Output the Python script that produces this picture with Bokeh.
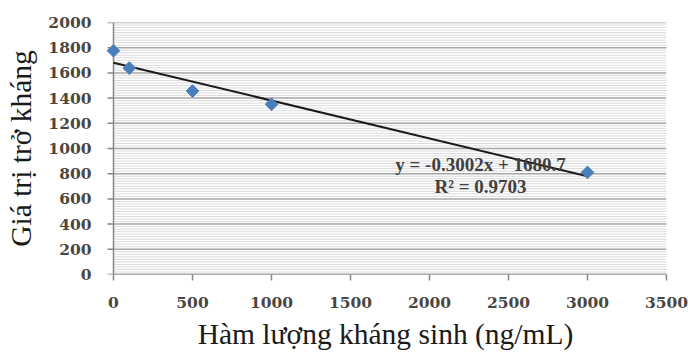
import math
from bokeh.plotting import figure
from bokeh.models import Range1d, SingleIntervalTicker, ColumnDataSource, Label
from bokeh.embed import file_html
from bokeh.resources import INLINE

# Antibiotic concentration (ng/mL) vs impedance
concentration = [0, 100, 500, 1000, 3000]
impedance = [1776, 1638, 1456, 1351, 810]

# Linear fit reported on the chart
slope = -0.3002
intercept = 1680.7
r_squared = 0.9703
fit_x = [0, 3000]
fit_y = [slope * x + intercept for x in fit_x]

x_ticks = [0, 500, 1000, 1500, 2000, 2500, 3000, 3500]
x_max = 3500
y_max = 2000
y_major_step = 200
y_minor_step = 20

AXIS_COLOR = "#868686"

# a small margin left of zero keeps the marker at x=0 whole
x_pad = 57
p = figure(width=688, height=352, output_backend="svg", toolbar_location=None,
           x_range=Range1d(-x_pad, x_max), y_range=Range1d(0, y_max),
           min_border_left=104, min_border_right=22, min_border_top=22,
           min_border_bottom=74)
p.outline_line_color = None
p.background_fill_color = "white"
p.xgrid.grid_line_color = None
p.ygrid.grid_line_color = None

# horizontal grid drawn from the y axis (x=0) to the right edge
minor_levels = [v for v in range(0, y_max + 1, y_minor_step) if v % y_major_step]
major_levels = list(range(0, y_max + 1, y_major_step))
p.multi_line([[0, x_max]] * len(minor_levels), [[v, v] for v in minor_levels],
             line_color="#dadada", line_width=1)
p.multi_line([[0, x_max]] * len(major_levels), [[v, v] for v in major_levels],
             line_color="#a6a6a6", line_width=1.5)

# axis lines sit at x=0 / y=0; y ticks point outward from x=0
tick_len = 6 * (x_max + x_pad) / 562
p.segment(x0=[0, 0], y0=[0, 0], x1=[0, x_max], y1=[y_max, 0],
          line_color=AXIS_COLOR, line_width=1.5)
p.segment(x0=[-tick_len] * len(major_levels), y0=major_levels,
          x1=[0] * len(major_levels), y1=major_levels,
          line_color=AXIS_COLOR, line_width=1.5)

# axes (labels and x ticks)
p.xaxis.ticker = x_ticks
p.yaxis.ticker = SingleIntervalTicker(interval=y_major_step)
for ax in (p.xaxis[0], p.yaxis[0]):
    ax.axis_line_color = None
    ax.major_tick_line_color = AXIS_COLOR
    ax.major_tick_line_width = 1.5
    ax.major_tick_in = 0
    ax.major_tick_out = 6
    ax.minor_tick_line_color = None
    ax.major_label_text_font = "DejaVu Serif"
    ax.major_label_text_font_style = "bold"
    ax.major_label_text_font_size = "15.5px"
    ax.major_label_text_color = "#4a4640"
    ax.axis_label_text_font = "Liberation Serif"
    ax.axis_label_text_font_style = "normal"
    ax.axis_label_text_font_size = "29.5px"
    ax.axis_label_text_color = "#1a1a1a"
p.yaxis.major_tick_line_color = None
p.yaxis.major_tick_out = 0

p.xaxis.axis_label = "Hàm lượng kháng sinh (ng/mL)"
p.yaxis.axis_label = "Giá trị trở kháng"
p.xaxis.major_label_standoff = 16
p.yaxis.major_label_standoff = 9
p.xaxis.axis_label_standoff = 7
p.yaxis.axis_label_standoff = 8

# trend line and data points
p.line(fit_x, fit_y, line_color="#1a1a1a", line_width=2)
src = ColumnDataSource(dict(x=concentration, y=impedance))
p.scatter("x", "y", source=src, marker="square", size=9, angle=math.pi / 4,
          fill_color="#4a7ebb", line_color="#4a7ebb")

# equation label
eq = f"y = {slope}x + {intercept}"
p.add_layout(Label(x=2323, y=870, text=eq, text_align="center",
                   text_baseline="middle", text_font="Liberation Serif",
                   text_font_style="bold", text_font_size="19px",
                   text_color="#404040"))
p.add_layout(Label(x=2323, y=698, text=f"R² = {r_squared}", text_align="center",
                   text_baseline="middle", text_font="Liberation Serif",
                   text_font_style="bold", text_font_size="19px",
                   text_color="#404040"))

open("out.html", "w").write(file_html(p, INLINE))
